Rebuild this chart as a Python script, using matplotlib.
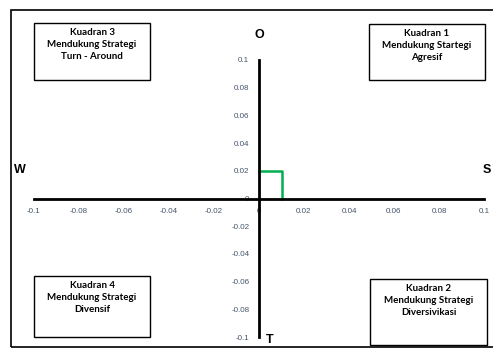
import matplotlib.pyplot as plt
from matplotlib.patches import Rectangle

# data
ticks = [-0.1, -0.08, -0.06, -0.04, -0.02, 0, 0.02, 0.04, 0.06, 0.08, 0.1]
tick_labels = ['-0.1', '-0.08', '-0.06', '-0.04', '-0.02', '0', '0.02', '0.04', '0.06', '0.08', '0.1']
green_x = [0, 0.01, 0.01]
green_y = [0.02, 0.02, 0]
kuadran_text = [
    'Kuadran 3\nMendukung Strategi\nTurn - Around',
    'Kuadran 1\nMendukung Startegi\nAgresif',
    'Kuadran 4\nMendukung Strategi\nDivensif',
    'Kuadran 2\nMendukung Strategi\nDiversivikasi',
]

W, H = 493, 352
fig = plt.figure(figsize=(W / 100, H / 100), dpi=100)

# outer frame of the picture
fig.add_artist(Rectangle((11 / W, 1 - 347 / H), 490 / W, 337 / H, transform=fig.transFigure,
                         fill=False, edgecolor='black', linewidth=1.2))

ax = fig.add_axes([34 / W, 1 - 337 / H, 450 / W, 277 / H])
ax.set_xlim(-0.1, 0.1)
ax.set_ylim(-0.1, 0.1)
ax.patch.set_alpha(0)
for s in ['top', 'right']:
    ax.spines[s].set_visible(False)
ax.spines['left'].set_position('zero')
ax.spines['bottom'].set_position('zero')
ax.spines['left'].set_linewidth(2)
ax.spines['bottom'].set_linewidth(2)
ax.set_xticks(ticks)
ax.set_xticklabels(tick_labels)
ax.set_yticks(ticks)
ax.set_yticklabels(tick_labels)
ax.tick_params(length=0, labelsize=5.8, labelcolor='#44546A', pad=7)
for lab in ax.get_xticklabels() + ax.get_yticklabels():
    lab.set_family('Liberation Sans')

ax.plot(green_x, green_y, color='#00B050', linewidth=1.8, zorder=1)

# axis letters
lf = dict(fontsize=9, fontweight='bold', family='Liberation Sans', ha='center', va='center')
fig.text(259 / W, 1 - 35 / H, 'O', **lf)
fig.text(20 / W, 1 - 170 / H, 'W', **lf)
fig.text(270 / W, 1 - 340 / H, 'T', **lf)
fig.text(487 / W, 1 - 170 / H, 'S', **lf)

# quadrant boxes (left, top, right, bottom in pixels)
boxes = [(34, 23, 150, 80), (369, 24, 485, 80), (34, 276, 150, 337), (370, 279, 487, 345)]
for (l, t, r, b), txt in zip(boxes, kuadran_text):
    fig.add_artist(Rectangle((l / W, 1 - b / H), (r - l) / W, (b - t) / H, transform=fig.transFigure,
                             fill=False, edgecolor='black', linewidth=1))
    fig.text((l + r) / 2 / W, 1 - (t + 5) / H, txt, ha='center', va='top', fontsize=7,
             fontweight='bold', family='Lato', linespacing=1.4)

fig.savefig('out.png', dpi=100)
